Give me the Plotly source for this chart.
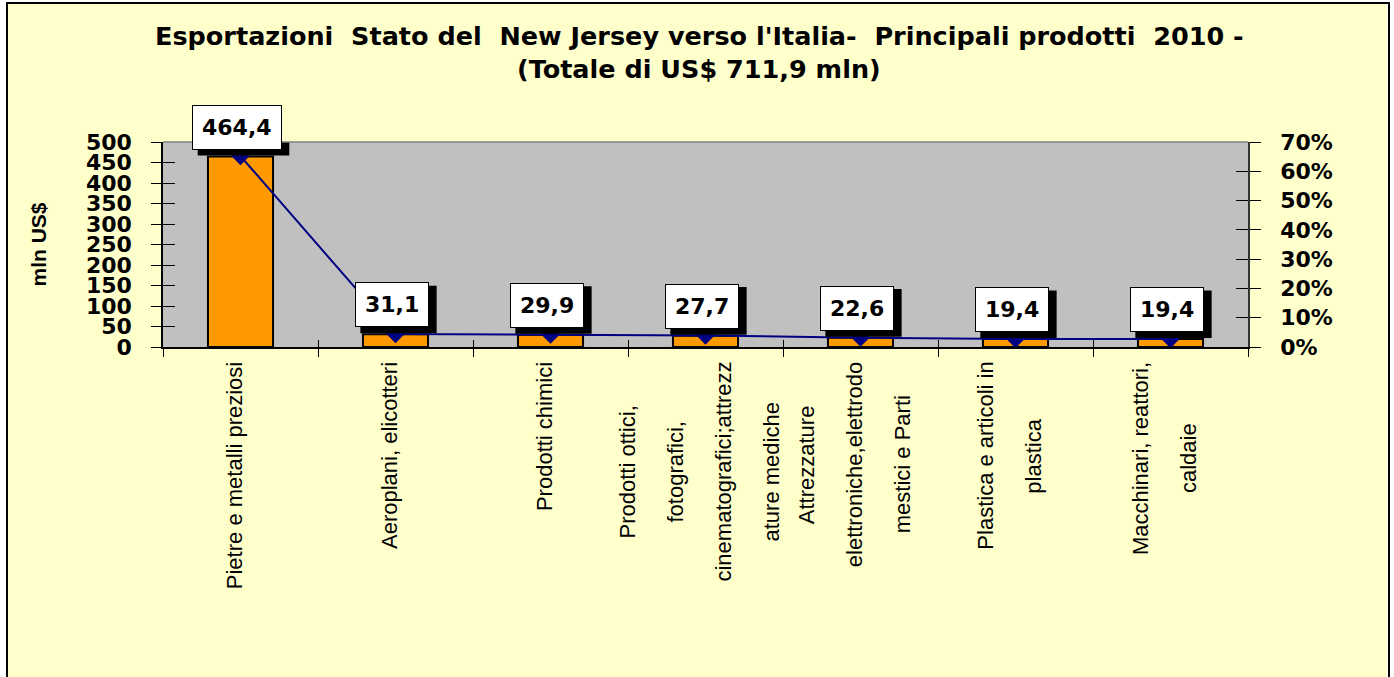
import plotly.graph_objects as go

# ---------------- data ----------------
categories = [
    "Pietre e metalli preziosi",
    "Aeroplani, elicotteri",
    "Prodotti chimici",
    "Prodotti ottici, fotografici, cinematografici;attrezzature mediche",
    "Attrezzature elettroniche,elettrodomestici e Parti",
    "Plastica e articoli in plastica",
    "Macchinari, reattori, caldaie",
]
category_lines = [
    ["Pietre e metalli preziosi"],
    ["Aeroplani, elicotteri"],
    ["Prodotti chimici"],
    ["Prodotti ottici,", "fotografici,", "cinematografici;attrezz", "ature mediche"],
    ["Attrezzature", "elettroniche,elettrodo", "mestici e Parti"],
    ["Plastica e articoli in", "plastica"],
    ["Macchinari, reattori,", "caldaie"],
]
values = [464.4, 31.1, 29.9, 27.7, 22.6, 19.4, 19.4]           # mln US$
shares = [0.652, 0.044, 0.042, 0.039, 0.032, 0.027, 0.027]     # quota sul totale
title_lines = [
    "Esportazioni\u00a0 Stato del\u00a0 New Jersey verso l'Italia-\u00a0 Principali prodotti\u00a0 2010 -",
    "(Totale di US$ 711,9 mln)",
]
y_title = "mln US$"
y_ticks_max, y_dtick = 500, 50
y2_max, y2_dtick = 0.7, 0.1

# ---------------- geometry helpers ----------------
W, H = 1394, 677
L_M, R_M, T_M, B_M = 163, 146, 142, 330
pw, ph = W - L_M - R_M, H - T_M - B_M


def px_x(px):
    return (px - L_M) / pw


def px_y(py):
    return (H - B_M - py) / ph


ARIAL_W = {" ": 278, ",": 278, ";": 278, ".": 278, "a": 556, "b": 556, "c": 500, "d": 556,
           "e": 556, "f": 278, "g": 556, "h": 556, "i": 222, "j": 222, "k": 500, "l": 222,
           "m": 833, "n": 556, "o": 556, "p": 556, "q": 556, "r": 333, "s": 500, "t": 278,
           "u": 556, "v": 500, "w": 722, "x": 500, "y": 500, "z": 500, "A": 667, "M": 833,
           "P": 667}
DEJAVU_BOLD_W = {",": 380, ".": 380}  # digits are 696


def text_len(s, size):
    return sum(ARIAL_W.get(c, 600) for c in s) / 1000.0 * size


def num_len(s, size):
    return sum(DEJAVU_BOLD_W.get(c, 696) for c in s) / 1000.0 * size


LABEL_FONT = 22
LINE_GAP = 48
VAL_FONT = 22
PAD, BW = 9, 1

fig = go.Figure()
fig.add_trace(go.Bar(
    x=categories, y=values, width=0.42,
    marker=dict(color="#FF9900", line=dict(color="black", width=2)),
    showlegend=False, hoverinfo="x+y",
))
fig.add_trace(go.Scatter(
    x=categories, y=shares, yaxis="y2", mode="lines+markers",
    line=dict(color="#000080", width=2),
    marker=dict(symbol="diamond", size=14, color="#000080"),
    showlegend=False,
))
# invisible helpers for the inner half of the crossing tick marks
fig.add_trace(go.Scatter(x=categories, y=values, xaxis="x2", yaxis="y3", mode="markers",
                         marker=dict(opacity=0), hoverinfo="skip", showlegend=False))
fig.add_trace(go.Scatter(x=categories, y=shares, xaxis="x2", yaxis="y4", mode="markers",
                         marker=dict(opacity=0), hoverinfo="skip", showlegend=False))

bold_font = dict(family="DejaVu Sans", size=VAL_FONT, color="black", weight="bold")

annotations = []
shapes = []
# data labels (white box) + pixel-sized drop shadow
X_OFF, Y_OFF = -4, 7
for c, v in zip(categories, values):
    txt = f"{v:.1f}".replace(".", ",")
    bw = num_len(txt, VAL_FONT) + 2 * (PAD + BW)
    bh = 1.164 * VAL_FONT + 2 * (PAD + BW)
    annotations.append(dict(
        x=c, y=v, xref="x", yref="y", text=txt, showarrow=False,
        yanchor="bottom", xanchor="center", borderwidth=BW, borderpad=PAD,
        font=bold_font, xshift=X_OFF, yshift=Y_OFF, bgcolor="white", bordercolor="black"))
    shapes.append(dict(
        type="rect", xref="x", yref="y", xsizemode="pixel", ysizemode="pixel",
        xanchor=c, yanchor=v, layer="above",
        x0=X_OFF - bw / 2 + 6, x1=X_OFF + bw / 2 + 8,
        y0=Y_OFF - 6, y1=Y_OFF + bh - 4,
        fillcolor="black", line=dict(width=0)))

# category labels (rotated, centered lines)
for c, lines in zip(categories, category_lines):
    n = len(lines)
    L = max(text_len(s, LABEL_FONT) for s in lines)
    for i, s in enumerate(lines):
        annotations.append(dict(
            x=c, y=0, xref="x", yref="paper", text=s, showarrow=False, textangle=-90,
            xanchor="center", yanchor="middle",
            xshift=(i - (n - 1) / 2) * LINE_GAP - 6, yshift=-15 - L / 2,
            font=dict(family="Liberation Sans", size=LABEL_FONT, color="black"),
        ))

# title lines
for j, t in enumerate(title_lines):
    annotations.append(dict(
        x=px_x(699), y=px_y(36 + 33 * j), xref="paper", yref="paper", text=t,
        showarrow=False, xanchor="center", yanchor="middle",
        font=dict(family="DejaVu Sans", size=25.5, color="black", weight="bold"),
    ))

shapes += [
    dict(type="line", xref="paper", yref="paper", x0=0, x1=1, y0=1, y1=1,
         line=dict(color="#808080", width=1.5)),
    dict(type="rect", xref="paper", yref="paper", x0=px_x(-4), x1=px_x(1398),
         y0=px_y(720), y1=px_y(-8), line=dict(color="white", width=22)),
    dict(type="rect", xref="paper", yref="paper", x0=px_x(7), x1=px_x(1389),
         y0=px_y(700), y1=px_y(3), line=dict(color="black", width=2)),
]

fig.update_layout(
    width=W, height=H, autosize=False,
    margin=dict(l=L_M, r=R_M, t=T_M, b=B_M),
    paper_bgcolor="#FFFFCC", plot_bgcolor="#C0C0C0",
    showlegend=False,
    annotations=annotations, shapes=shapes,
    xaxis=dict(type="category", range=[-0.5, 6.5], tickson="boundaries", ticks="outside",
               ticklen=8, tickcolor="black", showticklabels=False, showline=True,
               linecolor="black", linewidth=1.5, showgrid=False, zeroline=False),
    xaxis2=dict(type="category", overlaying="x", anchor="y3", range=[-0.5, 6.5],
                tickson="boundaries", ticks="inside", ticklen=7, tickcolor="black",
                showticklabels=False, showline=False, showgrid=False, zeroline=False),
    yaxis=dict(range=[0, y_ticks_max], dtick=y_dtick, ticks="outside", ticklen=10,
               tickcolor="black", showline=True, linecolor="black", linewidth=1.5,
               showgrid=False, zeroline=False, tickfont=bold_font, ticklabelstandoff=15,
               automargin=False,
               title=dict(text=y_title, standoff=34,
                          font=dict(family="Liberation Sans", size=21, color="black",
                                    weight="bold"))),
    yaxis2=dict(overlaying="y", side="right", range=[0, y2_max], dtick=y2_dtick,
                tickformat=".0%", ticks="outside", ticklen=11, tickcolor="black",
                showline=True, linecolor="#333333", linewidth=1.5, showgrid=False,
                zeroline=False, tickfont=bold_font, ticklabelstandoff=15, automargin=False),
    yaxis3=dict(overlaying="y", side="left", anchor="x2", range=[0, y_ticks_max],
                dtick=y_dtick, ticks="inside", ticklen=12, tickcolor="black",
                showticklabels=False, showline=False, showgrid=False, zeroline=False),
    yaxis4=dict(overlaying="y", side="right", anchor="x2", range=[0, y2_max],
                dtick=y2_dtick, ticks="inside", ticklen=12, tickcolor="black",
                showticklabels=False, showline=False, showgrid=False, zeroline=False),
)

fig.write_html("out.html", config={"displayModeBar": False},
               post_script="document.body.style.margin='0';")
